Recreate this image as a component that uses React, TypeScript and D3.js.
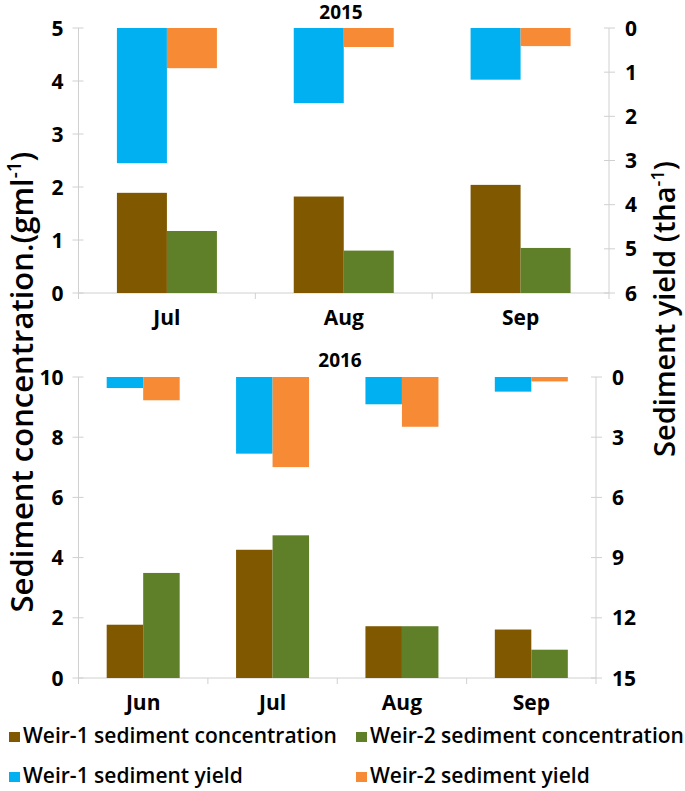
import * as d3 from 'd3'

const months2015 = ['Jul', 'Aug', 'Sep']
const conc1_2015 = [1.89, 1.82, 2.04]
const conc2_2015 = [1.17, 0.8, 0.85]
const yield1_2015 = [3.06, 1.7, 1.17]
const yield2_2015 = [0.91, 0.43, 0.41]

const months2016 = ['Jun', 'Jul', 'Aug', 'Sep']
const conc1_2016 = [1.77, 4.26, 1.72, 1.61]
const conc2_2016 = [3.49, 4.74, 1.72, 0.94]
const yield1_2016 = [0.55, 3.82, 1.36, 0.73]
const yield2_2016 = [1.16, 4.49, 2.48, 0.22]

const concTicks2015 = [0, 1, 2, 3, 4, 5]
const yieldTicks2015 = [0, 1, 2, 3, 4, 5, 6]
const concTicks2016 = [0, 2, 4, 6, 8, 10]
const yieldTicks2016 = [0, 3, 6, 9, 12, 15]

const legendItems = [
  { label: 'Weir-1 sediment concentration', color: '#7f5800' },
  { label: 'Weir-2 sediment concentration', color: '#5f7f28' },
  { label: 'Weir-1 sediment yield', color: '#00b0f0' },
  { label: 'Weir-2 sediment yield', color: '#f68a35' },
]

const FONT = "'Open Sans', sans-serif"
const AXIS = '#d0d0d0'

function Panel({ title, titleX, titleY, months, c1, c2, y1, y2, lTicks, rTicks, box, barW }) {
  const { left, right, top, bottom } = box
  const x = d3.scaleBand().domain(months).range([left, right])
  const yl = d3.scaleLinear().domain([0, d3.max(lTicks)]).range([bottom, top])
  const yr = d3.scaleLinear().domain([0, d3.max(rTicks)]).range([top, bottom])
  const cx = m => x(m) + x.bandwidth() / 2
  const bounds = months.map(m => x(m)).concat([right])

  return (
    <g>
      <text x={titleX} y={titleY} textAnchor="middle" fontSize={19} fontWeight={700} fontFamily={FONT}>{title}</text>
      <line x1={left} x2={left} y1={top} y2={bottom} stroke={AXIS} />
      <line x1={right} x2={right} y1={top} y2={bottom} stroke={AXIS} />
      <line x1={left} x2={right} y1={bottom} y2={bottom} stroke={AXIS} />
      {lTicks.map(t => (
        <g key={'l' + t}>
          <line x1={left - 6} x2={left + 5} y1={yl(t)} y2={yl(t)} stroke={AXIS} />
          <text x={left - 15} y={yl(t)} dy="0.36em" textAnchor="end" fontSize={21} fontWeight={700} fontFamily={FONT}>{t}</text>
        </g>
      ))}
      {rTicks.map(t => (
        <g key={'r' + t}>
          <line x1={right - 5} x2={right + 6} y1={yr(t)} y2={yr(t)} stroke={AXIS} />
          <text x={right + 16} y={yr(t)} dy="0.36em" textAnchor="start" fontSize={21} fontWeight={700} fontFamily={FONT}>{t}</text>
        </g>
      ))}
      {bounds.map((b, i) => (
        <line key={'b' + i} x1={b} x2={b} y1={bottom} y2={bottom + 6} stroke={AXIS} />
      ))}
      {months.map((m, i) => (
        <g key={m}>
          <rect x={cx(m) - barW} y={yl(c1[i])} width={barW} height={bottom - yl(c1[i])} fill={legendItems[0].color} />
          <rect x={cx(m)} y={yl(c2[i])} width={barW} height={bottom - yl(c2[i])} fill={legendItems[1].color} />
          <rect x={cx(m) - barW} y={top} width={barW} height={yr(y1[i]) - top} fill={legendItems[2].color} />
          <rect x={cx(m)} y={top} width={barW} height={yr(y2[i]) - top} fill={legendItems[3].color} />
          <text x={cx(m)} y={bottom + 32} textAnchor="middle" fontSize={21} fontWeight={700} fontFamily={FONT}>{m}</text>
        </g>
      ))}
    </g>
  )
}

export default function App() {
  return (
    <svg width={685} height={791} style={{ display: 'block', position: 'absolute', left: 0, top: 0, background: '#fff' }}>
      <rect width={685} height={791} fill="#fff" />
      <Panel title="2015" titleX={341} titleY={19} months={months2015} c1={conc1_2015} c2={conc2_2015} y1={yield1_2015} y2={yield2_2015}
        lTicks={concTicks2015} rTicks={yieldTicks2015} box={{ left: 78.5, right: 609, top: 28, bottom: 293 }} barW={50} />
      <Panel title="2016" titleX={340} titleY={367} months={months2016} c1={conc1_2016} c2={conc2_2016} y1={yield1_2016} y2={yield2_2016}
        lTicks={concTicks2016} rTicks={yieldTicks2016} box={{ left: 78.5, right: 596, top: 377, bottom: 678 }} barW={36.5} />

      <text transform="translate(33,382) rotate(-90)" textAnchor="middle" fontSize={31} fontWeight={600} fontFamily={FONT}>
        Sediment concentration.(gml<tspan fontSize={19} dy={-12}>-1</tspan><tspan dy={12}>)</tspan>
      </text>
      <text transform="translate(675,309) rotate(-90)" textAnchor="middle" fontSize={29} fontWeight={600} fontFamily={FONT}>
        Sediment yield (tha<tspan fontSize={18} dy={-11}>-1</tspan><tspan dy={11}>)</tspan>
      </text>

      {legendItems.map((d, i) => {
        const lx = i % 2 === 0 ? 9 : 356
        const ly = i < 2 ? 743 : 783
        return (
          <g key={d.label}>
            <rect x={lx} y={ly - 11} width={11} height={10} fill={d.color} />
            <text x={lx + 14} y={ly} fontSize={21} fontWeight={600} fontFamily={FONT}>{d.label}</text>
          </g>
        )
      })}
    </svg>
  )
}
